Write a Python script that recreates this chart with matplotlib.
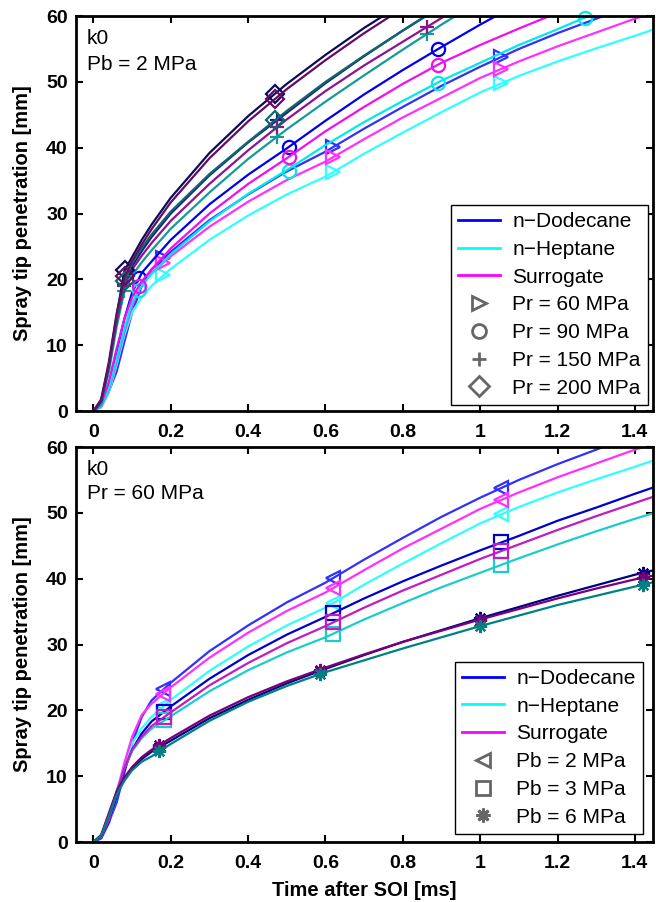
import numpy as np
import matplotlib.pyplot as plt
from matplotlib.lines import Line2D

plt.rcParams['font.family'] = ['Liberation Sans', 'DejaVu Sans']

# time after start of injection [ms]
t = np.array([0, 0.02, 0.04, 0.06, 0.08, 0.1, 0.125, 0.15, 0.2, 0.3, 0.4, 0.5,
              0.6, 0.7, 0.8, 0.9, 1.0, 1.1, 1.2, 1.3, 1.4, 1.45])

# Pb = 2 MPa, penetration [mm] for each injection pressure
dod_pr60 = [0, 0.6, 3, 6, 10.5, 15, 19, 21.5, 24.2, 29.0, 32.9, 36.4, 39.4, 42.9, 46.2, 49.4, 52.3, 55.0, 57.4, 59.6, 61.8]
hep_pr60 = [0, 0.5, 2.8, 7, 11.5, 15, 17.3, 19.0, 21.6, 26.0, 29.7, 32.9, 35.6, 39.1, 42.3, 45.4, 48.4, 50.9, 53.1, 55.1, 57.0, 58.0]
sur_pr60 = [0, 0.7, 3.2, 7.5, 12, 16, 19.3, 21, 23.5, 28.0, 31.8, 35.1, 37.9, 41.3, 44.6, 47.6, 50.6, 53.1, 55.4, 57.5, 59.6, 60.5]

dod_pr90 = [0, 1, 4, 9, 14, 18, 21.0, 22.7, 26.0, 31.4, 35.9, 39.9, 44.1, 48.1, 51.8, 55.3, 58.7, 61.9]
hep_pr90 = [0, 0.8, 3.5, 8, 12.5, 16.5, 19.1, 20.8, 23.8, 28.8, 33.0, 36.6, 40.4, 43.9, 47.1, 50.2, 52.9, 55.6, 58.0, 60.5]
sur_pr90 = [0, 1, 4.5, 9.5, 14, 17.3, 19.7, 21.5, 24.7, 30.0, 34.5, 38.4, 42.5, 46.2, 49.7, 52.9, 55.6, 58.1, 60.5]

dod_pr150 = [0, 1.3, 6.5, 13.5, 19.3, 22.0, 24.3, 26.4, 30.0, 35.8, 40.8, 45.3, 49.8, 53.9, 57.8, 61.5]
hep_pr150 = [0, 1.2, 6, 12.8, 18.2, 20.6, 22.6, 24.4, 27.7, 33.2, 38.3, 42.8, 47.0, 51.0, 54.9, 58.7, 62.3]
sur_pr150 = [0, 1.5, 6.8, 13.5, 19.0, 21.5, 23.6, 25.5, 28.9, 34.5, 39.6, 44.3, 48.6, 52.5, 56.1, 59.7, 63.0]

dod_pr200 = [0, 1.5, 7, 14.5, 21.3, 23.4, 26.0, 28.3, 32.4, 39.2, 44.8, 49.7, 54.1, 58.2, 61.9]
hep_pr200 = [0, 1.6, 7, 14, 19.5, 22.5, 24.8, 26.8, 30.3, 36.0, 40.9, 45.6, 50.0, 54.0, 57.8, 61.5]
sur_pr200 = [0, 1.8, 7.5, 14.8, 20.3, 22.8, 25.3, 27.6, 31.7, 38.4, 44.0, 48.9, 53.3, 57.4, 61.2]

# Pr = 60 MPa, higher back pressures (Pb = 2 MPa is the Pr = 60 set above)
dod_pb3 = [0, 0.6, 3, 7, 11, 14, 16.5, 18.3, 20.6, 24.8, 28.4, 31.5, 34.2, 37.0, 39.6, 42.0, 44.3, 46.5, 48.8, 50.8, 52.9, 53.9]
hep_pb3 = [0, 0.8, 3.6, 7.8, 11.2, 13.8, 15.8, 17.2, 19.1, 22.9, 26.1, 28.8, 31.1, 33.8, 36.3, 38.7, 40.9, 43.1, 45.2, 47.2, 49.1, 50.0]
sur_pb3 = [0, 0.7, 3.3, 7.5, 11.2, 14, 16, 17.6, 19.7, 23.8, 27.2, 30.2, 32.8, 35.6, 38.2, 40.6, 43.0, 45.2, 47.4, 49.5, 51.5, 52.5]

dod_pb6 = [0, 1.0, 4.2, 7.5, 9.6, 11.2, 12.6, 13.7, 15.4, 18.8, 21.6, 24.1, 26.3, 28.4, 30.4, 32.2, 34.0, 35.7, 37.4, 39.0, 40.6, 41.3]
hep_pb6 = [0, 1.0, 4.0, 7.2, 9.3, 10.9, 12.2, 13.0, 14.9, 18.4, 21.3, 23.7, 25.8, 27.6, 29.4, 31.1, 32.8, 34.4, 36.0, 37.4, 38.8, 39.5]
sur_pb6 = [0, 1.1, 4.4, 7.7, 9.8, 11.4, 12.9, 14.0, 15.8, 19.2, 22.0, 24.4, 26.5, 28.5, 30.4, 32.1, 33.8, 35.4, 37.0, 38.5, 39.9, 40.5]

# marker positions (time [ms], penetration [mm])
mt_pr60 = [0.18, 0.62, 1.055]
dod_pr60_m = [23.2, 40.1, 53.8]
hep_pr60_m = [20.6, 36.3, 49.8]
sur_pr60_m = [22.5, 38.6, 52.0]

mt_pr90 = [0.118, 0.505, 0.89, 1.27]
dod_pr90_m = [20.2, 40.1, 55.0]
hep_pr90_m = [18.4, 36.4, 49.9, 59.7]
sur_pr90_m = [19.0, 38.6, 52.6]

mt_pr150 = [0.08, 0.475, 0.862]
dod_pr150_m = [19.3, 44.2]
hep_pr150_m = [18.2, 41.7, 57.3]
sur_pr150_m = [19.0, 43.1, 58.3]

mt_pr200 = [0.082, 0.47]
dod_pr200_m = [21.5, 48.2]
hep_pr200_m = [19.7, 44.2]
sur_pr200_m = [20.5, 47.4]

mt_pb3 = [0.183, 0.62, 1.055]
dod_pb3_m = [19.8, 34.8, 45.5]
hep_pb3_m = [18.5, 31.6, 42.1]
sur_pb3_m = [19.0, 33.4, 44.2]

mt_pb6 = [0.17, 0.587, 1.0, 1.42]
dod_pb6_m = [14.4, 26.0, 34.0, 40.9]
hep_pb6_m = [13.8, 25.5, 32.8, 39.1]
sur_pb6_m = [14.7, 26.2, 33.8, 40.1]

fuels = ['n\u2212Dodecane', 'n\u2212Heptane', 'Surrogate']
fuel_colors = ['#0000ff', '#00ffff', '#ff00ff']


def draw(ax, y, color, marker, mt, my):
    ax.plot(t[:len(y)], y, color=color, lw=1.6)
    ax.plot(mt[:len(my)], my, ls='none', marker=marker, ms=9.5, mew=1.6,
            mfc='none', mec=color, clip_on=False)


fig = plt.figure(figsize=(6.56, 9.02), dpi=100)
ax1 = fig.add_axes([0.1159, 0.5443, 0.8796, 0.4379])
ax2 = fig.add_axes([0.1159, 0.0665, 0.8796, 0.4379])

# top: Pb = 2 MPa
draw(ax1, dod_pr60, '#3030ff', '>', mt_pr60, dod_pr60_m)
draw(ax1, hep_pr60, '#30ffff', '>', mt_pr60, hep_pr60_m)
draw(ax1, sur_pr60, '#ff30ff', '>', mt_pr60, sur_pr60_m)
draw(ax1, dod_pr90, '#0000f0', 'o', mt_pr90, dod_pr90_m)
draw(ax1, hep_pr90, '#00eaea', 'o', mt_pr90, hep_pr90_m)
draw(ax1, sur_pr90, '#ee10ee', 'o', mt_pr90, sur_pr90_m)
draw(ax1, dod_pr150, '#1a1a8c', '+', mt_pr150, dod_pr150_m)
draw(ax1, hep_pr150, '#169a9a', '+', mt_pr150, hep_pr150_m)
draw(ax1, sur_pr150, '#8c148c', '+', mt_pr150, sur_pr150_m)
draw(ax1, dod_pr200, '#0c0c58', 'D', mt_pr200, dod_pr200_m)
draw(ax1, hep_pr200, '#0e6a6a', 'D', mt_pr200, hep_pr200_m)
draw(ax1, sur_pr200, '#640c64', 'D', mt_pr200, sur_pr200_m)

# bottom: Pr = 60 MPa
draw(ax2, dod_pr60, '#3030ff', '<', mt_pr60, dod_pr60_m)
draw(ax2, hep_pr60, '#30ffff', '<', mt_pr60, hep_pr60_m)
draw(ax2, sur_pr60, '#ff30ff', '<', mt_pr60, sur_pr60_m)
draw(ax2, dod_pb3, '#0000cc', 's', mt_pb3, dod_pb3_m)
draw(ax2, hep_pb3, '#1ccccc', 's', mt_pb3, hep_pb3_m)
draw(ax2, sur_pb3, '#c01cc0', 's', mt_pb3, sur_pb3_m)
draw(ax2, dod_pb6, '#000080', (8, 2, 0), mt_pb6, dod_pb6_m)
draw(ax2, sur_pb6, '#7a007a', (8, 2, 0), mt_pb6, sur_pb6_m)
draw(ax2, hep_pb6, '#008080', (8, 2, 0), mt_pb6, hep_pb6_m)

xt = [0, 0.2, 0.4, 0.6, 0.8, 1.0, 1.2, 1.4]
for ax in (ax1, ax2):
    ax.set_xlim(-0.045, 1.447)
    ax.set_ylim(0, 60)
    ax.set_xticks(xt)
    ax.set_xticklabels(['%g' % v for v in xt], fontweight='bold')
    ax.set_yticks(range(0, 61, 10))
    ax.set_yticklabels([str(v) for v in range(0, 61, 10)], fontweight='bold')
    ax.tick_params(direction='in', top=True, right=True, length=5, width=1.5,
                   labelsize=14)
    ax.tick_params(axis='x', pad=9)
    ax.tick_params(axis='y', pad=6)
    for s in ax.spines.values():
        s.set_linewidth(2)
    ax.set_ylabel('Spray tip penetration [mm]', fontsize=14.5, fontweight='bold', labelpad=10)

ax2.set_xlabel('Time after SOI [ms]', fontsize=14.5, fontweight='bold', labelpad=7)

ax1.text(0.019, 0.929, 'k0', transform=ax1.transAxes, fontsize=15, va='baseline')
ax1.text(0.019, 0.863, 'Pb = 2 MPa', transform=ax1.transAxes, fontsize=15, va='baseline')
ax2.text(0.019, 0.929, 'k0', transform=ax2.transAxes, fontsize=15, va='baseline')
ax2.text(0.019, 0.868, 'Pr = 60 MPa', transform=ax2.transAxes, fontsize=15, va='baseline')


def legend_handles(markers, labels):
    hs = [Line2D([], [], color=c, lw=2) for c in fuel_colors]
    hs += [Line2D([], [], ls='none', marker=m, ms=10, mew=2, mfc='none', mec='#666666')
           for m in markers]
    return hs, fuels + labels


h, l = legend_handles(['>', 'o', '+', 'D'],
                      ['Pr = 60 MPa', 'Pr = 90 MPa', 'Pr = 150 MPa', 'Pr = 200 MPa'])
leg = ax1.legend(h, l, loc='lower right', bbox_to_anchor=(0.9913, 0.0152), borderaxespad=0,
                 fontsize=15, fancybox=False, framealpha=1, edgecolor='black',
                 handlelength=2.0, handletextpad=0.6, labelspacing=0.42, borderpad=0.35)
leg.get_frame().set_linewidth(1)

h, l = legend_handles(['<', 's', (8, 2, 0)], ['Pb = 2 MPa', 'Pb = 3 MPa', 'Pb = 6 MPa'])
leg = ax2.legend(h, l, loc='lower right', bbox_to_anchor=(0.9827, 0.0203), borderaxespad=0,
                 fontsize=15, fancybox=False, framealpha=1, edgecolor='black',
                 handlelength=2.0, handletextpad=0.6, labelspacing=0.42, borderpad=0.35)
leg.get_frame().set_linewidth(1)

fig.savefig('out.png', dpi=100)
